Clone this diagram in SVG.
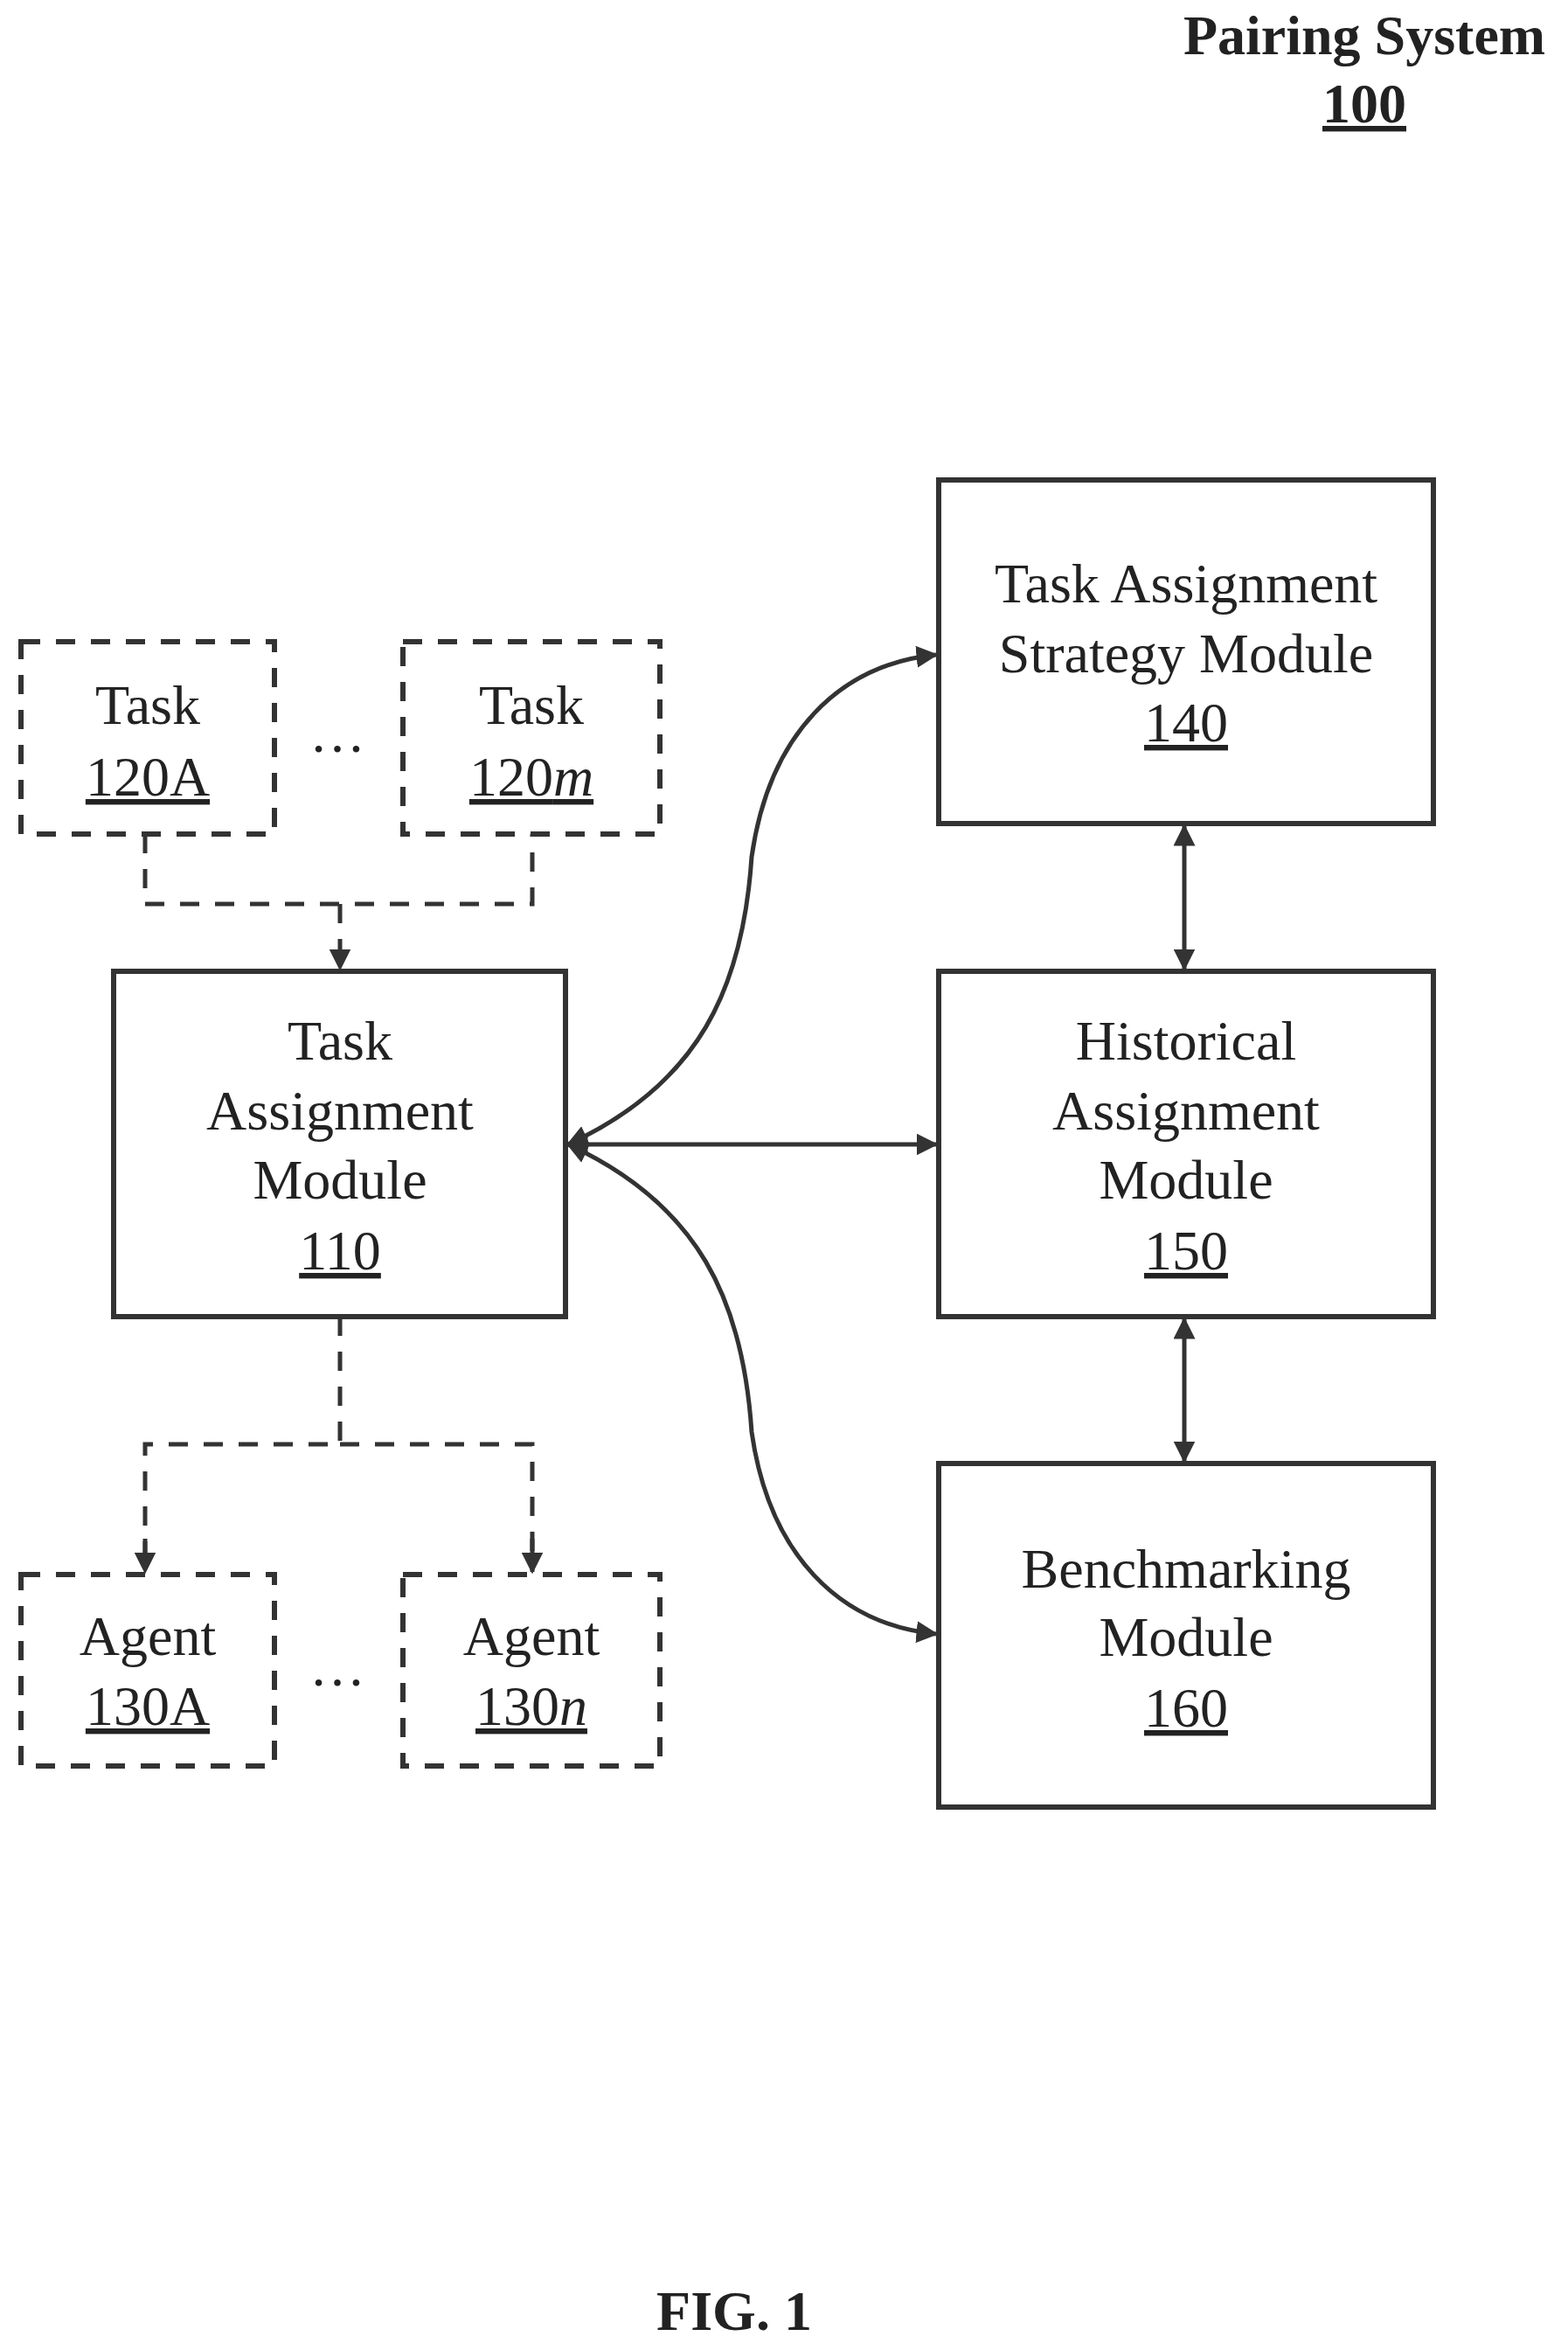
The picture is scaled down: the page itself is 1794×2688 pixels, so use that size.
<svg xmlns="http://www.w3.org/2000/svg" width="1794" height="2688" viewBox="0 0 1794 2688">
<style>
text{font-family:"Liberation Serif",serif;font-size:64px;fill:#222;text-anchor:middle}
.b{font-weight:bold}
.box{fill:none;stroke:#333;stroke-width:6}
.dbox{fill:none;stroke:#333;stroke-width:6;stroke-dasharray:22 18}
.c{fill:none;stroke:#333;stroke-width:5}
.d{fill:none;stroke:#333;stroke-width:5;stroke-dasharray:22 18}
</style>
<defs>
<marker id="a" viewBox="0 0 10 10" refX="9" refY="5" markerWidth="5" markerHeight="5" orient="auto-start-reverse"><path d="M0,0L10,5L0,10z" fill="#333"/></marker>
</defs>
<rect width="1794" height="2688" fill="#fff"/>
<g id="title"><text class="b" x="1561" y="62" font-size="62">Pairing System</text><text class="b" x="1561" y="140" font-size="62" text-decoration="underline">100</text></g>
<g id="t120A"><rect class="dbox" x="24" y="734" width="290" height="220"/><text x="169" y="828">Task</text><text x="169" y="910" text-decoration="underline">120A</text></g>
<text x="386" y="860">…</text>
<g id="t120m"><rect class="dbox" x="461" y="734" width="294" height="220"/><text x="608" y="828">Task</text><text x="608" y="910"><tspan text-decoration="underline">120<tspan font-style="italic">m</tspan></tspan></text></g>
<g id="m110"><rect class="box" x="130" y="1111" width="517" height="395"/><text x="389" y="1212">Task</text><text x="389" y="1292">Assignment</text><text x="389" y="1371">Module</text><text x="389" y="1452" text-decoration="underline">110</text></g>
<g id="a130A"><rect class="dbox" x="24" y="1801" width="290" height="219"/><text x="169" y="1893">Agent</text><text x="169" y="1973" text-decoration="underline">130A</text></g>
<text x="386" y="1928">…</text>
<g id="a130n"><rect class="dbox" x="461" y="1801" width="294" height="219"/><text x="608" y="1893">Agent</text><text x="608" y="1973" text-decoration="underline">130<tspan font-style="italic">n</tspan></text></g>
<g id="m140"><rect class="box" x="1074" y="549" width="566" height="393"/><text x="1357" y="689">Task Assignment</text><text x="1357" y="769">Strategy Module</text><text x="1357" y="848" text-decoration="underline">140</text></g>
<g id="m150"><rect class="box" x="1074" y="1111" width="566" height="395"/><text x="1357" y="1212">Historical</text><text x="1357" y="1292">Assignment</text><text x="1357" y="1371">Module</text><text x="1357" y="1452" text-decoration="underline">150</text></g>
<g id="m160"><rect class="box" x="1074" y="1674" width="566" height="393"/><text x="1357" y="1816">Benchmarking</text><text x="1357" y="1894">Module</text><text x="1357" y="1975" text-decoration="underline">160</text></g>
<g id="connectors">
<path class="d" d="M166,954V1034H609V954"/>
<path class="d" d="M389,1034V1108" marker-end="url(#a)"/>
<path class="d" d="M389,1506V1652H166V1798M389,1652H609V1798"/>
<path class="d" d="M166,1760V1798" marker-end="url(#a)"/>
<path class="d" d="M609,1760V1798" marker-end="url(#a)"/>
<path class="c" d="M650,1309C800,1240 850,1130 860,980C880,840 960,760 1071,749" marker-start="url(#a)" marker-end="url(#a)"/>
<path class="c" d="M650,1309H1071" marker-start="url(#a)" marker-end="url(#a)"/>
<path class="c" d="M650,1309C800,1378 850,1488 860,1638C880,1778 960,1858 1071,1869" marker-start="url(#a)" marker-end="url(#a)"/>
<path class="c" d="M1355,945V1108" marker-start="url(#a)" marker-end="url(#a)"/>
<path class="c" d="M1355,1509V1671" marker-start="url(#a)" marker-end="url(#a)"/>
</g>
<text class="b" x="840" y="2665" font-size="54">FIG. 1</text>
</svg>
